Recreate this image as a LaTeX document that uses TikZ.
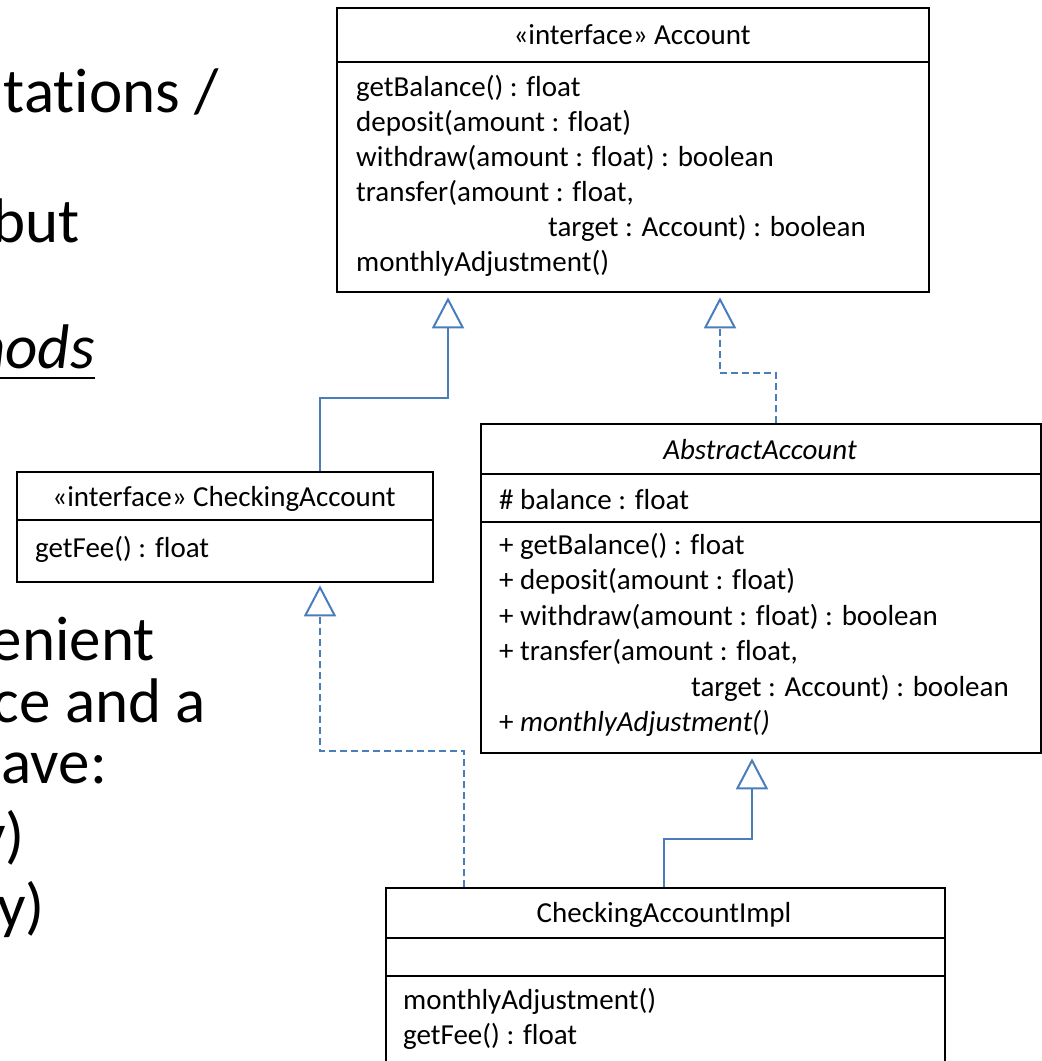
\documentclass[tikz,border=0pt]{standalone}
\usepackage{fontspec}
\setmainfont{Carlito}[Ligatures=CommonOff]
\usetikzlibrary{arrows.meta,calc}
\definecolor{umlblue}{RGB}{74,126,187}
\tikzset{
  classbox/.style={draw=black, line width=2.3pt, inner sep=0pt, anchor=north west},
  divider/.style={black, line width=2.1pt},
  member/.style={anchor=base west, inner sep=0pt, font=\fontsize{29}{35}\selectfont},
  title/.style={anchor=base, inner sep=0pt, font=\fontsize{29}{35}\selectfont},
  slide/.style={anchor=base east, inner sep=0pt, font=\fontsize{63}{72}\selectfont},
  gen/.style={umlblue, line width=2pt,
    -{Triangle[open, length=31pt, width=32pt, line width=2pt]}},
  real/.style={gen, dash pattern=on 7pt off 4pt},
}
\begin{document}
\begin{tikzpicture}[x=1pt, y=-1pt]
\useasboundingbox (0,0) rectangle (1042,1061);
\clip (0,0) rectangle (1042,1061);

% bullet text of the slide, running in from the left edge
\node[slide] (s1) at (219,112) {tations /};
\node[slide] (s2) at (80,242) {but};
\node[slide, font=\fontsize{63}{72}\selectfont\itshape] (s3) at (95,368) {nods};
\draw[black, line width=2.6pt] (0,378) -- (s3.base east |- 0,378);
\node[slide] (s4) at (155,660) {enient};
\node[slide] (s5) at (206,722) {ce and a};
\node[slide] (s6) at (107,783) {ave:};
\node[slide] (s7) at (25,856) {y)};
\node[slide] (s8) at (45,927) {y)};

% class boxes
\node[classbox, minimum width=592pt, minimum height=284pt] (account) at (336,7) {};
\node[classbox, minimum width=416pt, minimum height=110pt] (checking) at (16,471) {};
\node[classbox, minimum width=560pt, minimum height=329pt] (abstract) at (480,423) {};
\node[classbox, minimum width=559pt, minimum height=220pt] (impl) at (385,887) {};

% compartment separators
\draw[divider] ($(account.north west)+(0,55)$) -- ($(account.north east)+(0,55)$);
\draw[divider] ($(checking.north west)+(0,49)$) -- ($(checking.north east)+(0,49)$);
\draw[divider] ($(abstract.north west)+(0,51)$) -- ($(abstract.north east)+(0,51)$);
\draw[divider] ($(abstract.north west)+(0,99)$) -- ($(abstract.north east)+(0,99)$);
\draw[divider] ($(impl.north west)+(0,51)$) -- ($(impl.north east)+(0,51)$);
\draw[divider] ($(impl.north west)+(0,89)$) -- ($(impl.north east)+(0,89)$);

% Account
\node[title] (accT) at (632,44) {«interface» Account};
\node[member] (acc1) at (356,96) {getBalance() : float};
\node[member] (acc2) at (356,131) {deposit(amount : float)};
\node[member] (acc3) at (356,166) {withdraw(amount : float) : boolean};
\node[member] (acc4) at (356,201) {transfer(amount : float,};
\node[member] (acc5) at (548,236) {target : Account) : boolean};
\node[member] (acc6) at (356,271) {monthlyAdjustment()};

% CheckingAccount
\node[title] (chkT) at (224,506) {«interface» CheckingAccount};
\node[member] (chk1) at (35,557) {getFee() : float};

% AbstractAccount
\node[title, font=\fontsize{29}{35}\selectfont\itshape] (absT) at (760,459) {AbstractAccount};
\node[member] (abs0) at (499,509) {\# balance : float};
\node[member] (abs1) at (499,554) {+ getBalance() : float};
\node[member] (abs2) at (499,589.5) {+ deposit(amount : float)};
\node[member] (abs3) at (499,625) {+ withdraw(amount : float) : boolean};
\node[member] (abs4) at (499,660.5) {+ transfer(amount : float,};
\node[member] (abs5) at (691,696) {target : Account) : boolean};
\node[member] (abs6) at (499,731.5) {+ \textit{monthlyAdjustment()}};

% CheckingAccountImpl
\node[title] (impT) at (664,922) {CheckingAccountImpl};
\node[member] (imp1) at (403,1009) {monthlyAdjustment()};
\node[member] (imp2) at (403,1044) {getFee() : float};

% relationships
\coordinate (k1) at (320,398);
\coordinate (k2) at (448,398);
\draw[gen] (checking.north -| k1) -- (k1) -- (k2) -- ([yshift=-4pt]account.south -| k2);

\coordinate (a1) at (776,373);
\coordinate (a2) at (720,373);
\draw[real] (abstract.north -| a1) -- (a1) -- (a2) -- ([yshift=-4pt]account.south -| a2);

\coordinate (i1) at (464,751);
\coordinate (i2) at (320,751);
\draw[real] (impl.north -| i1) -- (i1) -- (i2) -- ([yshift=-2pt]checking.south -| i2);

\coordinate (j1) at (664,839);
\coordinate (j2) at (752,839);
\draw[gen] (impl.north -| j1) -- (j1) -- (j2) -- ([yshift=-4pt]abstract.south -| j2);
\end{tikzpicture}
\end{document}
